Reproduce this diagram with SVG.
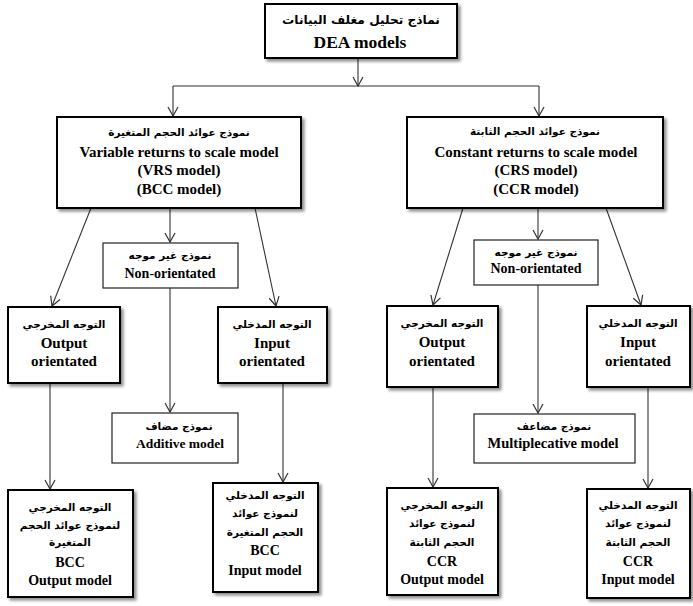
<svg xmlns="http://www.w3.org/2000/svg" width="693" height="606" viewBox="0 0 693 606">
<style>
.bx{fill:#fff;stroke:#000;stroke-width:2;filter:url(#sh)}
.tb{fill:#fff;stroke:#222;stroke-width:1.2}
.en{font-family:"Liberation Serif","Times New Roman",serif;font-weight:bold;fill:#000;text-anchor:middle}
.ar{font-family:"DejaVu Sans","Noto Sans",sans-serif;font-weight:bold;fill:#000;text-anchor:middle;font-size:10.5px}
.c{fill:none;stroke:#333;stroke-width:1.1;marker-end:url(#ah)}
.ln{fill:none;stroke:#333;stroke-width:1.1}
</style>
<defs>
<filter id="sh" x="-10%" y="-10%" width="125%" height="125%">
<feDropShadow dx="2.5" dy="2.5" stdDeviation="1.5" flood-color="#000" flood-opacity="0.45"/>
</filter>
<marker id="ah" markerUnits="userSpaceOnUse" markerWidth="14" markerHeight="14" viewBox="-12 -7 14 14" refX="0" refY="0" orient="auto">
<path d="M-9,-5 L0,0 L-9,5" fill="none" stroke="#333" stroke-width="1.2"/>
</marker>
</defs>
<rect width="693" height="606" fill="#fff"/>

<g id="connectors">
<path class="c" d="M358,58 V86"/>
<path class="ln" d="M173,86 H539"/>
<path class="c" d="M173,86 V116"/>
<path class="c" d="M539,86 V116"/>
<path class="c" d="M91,208 L52,306"/>
<path class="c" d="M170,208 V242"/>
<path class="c" d="M255,208 L276,306"/>
<path class="c" d="M463,208 L433,305"/>
<path class="c" d="M538,208 V239"/>
<path class="c" d="M606,208 L641,305"/>
<path class="c" d="M170,288 V412"/>
<path class="c" d="M538,285 V413"/>
<path class="c" d="M50,383 V489"/>
<path class="c" d="M283,383 V482"/>
<path class="c" d="M433,387 V487"/>
<path class="c" d="M648,387 V488"/>
</g>

<g id="dea">
<rect class="bx" x="265" y="4" width="192" height="54"/>
<text class="ar" x="361" y="24" style="font-size:12.2px">نماذج تحليل مغلف البيانات</text>
<text class="en" x="360" y="48" font-size="17.5">DEA models</text>
</g>

<g id="vrs">
<rect class="bx" x="57" y="117" width="244" height="91"/>
<text class="ar" x="179" y="136">نموذج عوائد الحجم المتغيرة</text>
<text class="en" x="179" y="157" font-size="15">Variable returns to scale model</text>
<text class="en" x="179" y="175" font-size="15">(VRS model)</text>
<text class="en" x="179" y="194" font-size="15">(BCC model)</text>
</g>

<g id="crs">
<rect class="bx" x="407" y="117" width="256" height="91"/>
<text class="ar" x="535" y="135">نموذج عوائد الحجم الثابتة</text>
<text class="en" x="536" y="157" font-size="15">Constant returns to scale model</text>
<text class="en" x="536" y="175" font-size="15">(CRS model)</text>
<text class="en" x="536" y="194" font-size="15">(CCR model)</text>
</g>

<g id="nonorient-vrs">
<rect class="tb" x="103" y="243" width="135" height="45"/>
<text class="ar" x="170" y="259">نموذج غير موجه</text>
<text class="en" x="170" y="278" font-size="14">Non-orientated</text>
</g>

<g id="nonorient-crs">
<rect class="tb" x="474" y="240" width="124" height="45"/>
<text class="ar" x="536" y="256">نموذج غير موجه</text>
<text class="en" x="536" y="273" font-size="14">Non-orientated</text>
</g>

<g id="output-vrs">
<rect class="bx" x="8" y="307" width="112" height="76"/>
<text class="ar" x="64" y="328">التوجه المخرجي</text>
<text class="en" x="64" y="348" font-size="15">Output</text>
<text class="en" x="64" y="366" font-size="15">orientated</text>
</g>

<g id="input-vrs">
<rect class="bx" x="218" y="307" width="109" height="76"/>
<text class="ar" x="272" y="328">التوجه المدخلي</text>
<text class="en" x="272" y="348" font-size="15">Input</text>
<text class="en" x="272" y="366" font-size="15">orientated</text>
</g>

<g id="output-crs">
<rect class="bx" x="387" y="306" width="111" height="81"/>
<text class="ar" x="442" y="327">التوجه المخرجي</text>
<text class="en" x="442" y="347" font-size="15">Output</text>
<text class="en" x="442" y="366" font-size="15">orientated</text>
</g>

<g id="input-crs">
<rect class="bx" x="587" y="306" width="103" height="81"/>
<text class="ar" x="638" y="327">التوجه المدخلي</text>
<text class="en" x="638" y="347" font-size="15">Input</text>
<text class="en" x="638" y="366" font-size="15">orientated</text>
</g>

<g id="additive">
<rect class="tb" x="112" y="413" width="126" height="50"/>
<text class="ar" x="179" y="430">نموذج مضاف</text>
<text class="en" x="180" y="448" font-size="13.5">Additive model</text>
</g>

<g id="multiplicative">
<rect class="tb" x="474" y="414" width="161" height="49"/>
<text class="ar" x="554" y="430">نموذج مضاعف</text>
<text class="en" x="553" y="448" font-size="14.5">Multiplecative model</text>
</g>

<g id="bcc-output">
<rect class="bx" x="8" y="490" width="125" height="107"/>
<text class="ar" x="70" y="511">التوجه المخرجي</text>
<text class="ar" x="70" y="529">لنموذج عوائد الحجم</text>
<text class="ar" x="70" y="546">المتغيرة</text>
<text class="en" x="70" y="567" font-size="14">BCC</text>
<text class="en" x="70" y="585" font-size="14">Output model</text>
</g>

<g id="bcc-input">
<rect class="bx" x="213" y="483" width="105" height="109"/>
<text class="ar" x="265" y="499">التوجه المدخلي</text>
<text class="ar" x="265" y="517">لنموذج عوائد</text>
<text class="ar" x="265" y="536">الحجم المتغيرة</text>
<text class="en" x="265" y="555" font-size="14">BCC</text>
<text class="en" x="265" y="575" font-size="14">Input model</text>
</g>

<g id="ccr-output">
<rect class="bx" x="387" y="488" width="111" height="107"/>
<text class="ar" x="442" y="509">التوجه المخرجي</text>
<text class="ar" x="442" y="527">لنموذج عوائد</text>
<text class="ar" x="442" y="546">الحجم الثابتة</text>
<text class="en" x="442" y="566" font-size="14">CCR</text>
<text class="en" x="442" y="584" font-size="14">Output model</text>
</g>

<g id="ccr-input">
<rect class="bx" x="587" y="489" width="103" height="109"/>
<text class="ar" x="638" y="509">التوجه المدخلي</text>
<text class="ar" x="638" y="527">لنموذج عوائد</text>
<text class="ar" x="638" y="546">الحجم الثابتة</text>
<text class="en" x="638" y="566" font-size="14">CCR</text>
<text class="en" x="638" y="584" font-size="14">Input model</text>
</g>
</svg>
